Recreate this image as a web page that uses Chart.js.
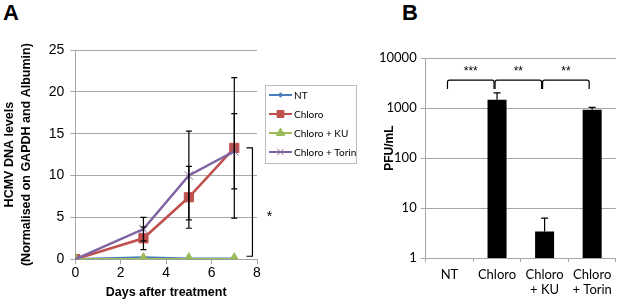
<!DOCTYPE html>
<html><head><meta charset="utf-8">
<script src="https://cdn.jsdelivr.net/npm/chart.js@4.4.0/dist/chart.umd.min.js"></script>
<style>
body{margin:0;background:#fff;width:617px;height:302px;overflow:hidden;position:relative;font-family:"Liberation Sans",Arial,sans-serif}
canvas{position:absolute;top:0}
#chartA{left:0}
#chartB{left:366px}
.panel{position:absolute;font-weight:bold;font-size:22px;line-height:22px}
</style></head><body>
<div class="panel" style="left:3px;top:2px">A</div>
<div class="panel" style="left:402px;top:2px">B</div>
<canvas id="chartA" width="370" height="302"></canvas>
<canvas id="chartB" width="251" height="302"></canvas>
<script>
// panel A - viral DNA over time
const days = [0, 3, 5, 7];
const xTicks = [0, 2, 4, 6, 8];
const seriesNames = ['NT', 'Chloro', 'Chloro + KU', 'Chloro + Torin'];
const ntValues = [0, 0.2, 0.05, 0.05];
const chloroValues = [0, 2.5, 7.4, 13.3];
const kuValues = [0, 0, 0, 0];
const torinValues = [0, 3.6, 10.0, 12.9];
const chloroErr = [0, 1.35, 3.7, 8.4];
const torinErr = [0, 1.4, 5.3, 4.5];

// panel B - plaque assay
const pfuLabels = ['NT', 'Chloro', ['Chloro', '+ KU'], ['Chloro', '+ Torin']];
const pfuValues = [null, 1470, 3.4, 920];
const pfuErr = [0, 530, 2.9, 110];
const logTicks = [1, 10, 100, 1000, 10000];
const sigPairs = [[0, 1, '***'], [1, 2, '**'], [2, 3, '**']];

const colors = ['#4a7ebb', '#c0504d', '#9bbb59', '#8064a2'];
const gridGray = '#a6a6a6';

function pts(vals) { return days.map((d, i) => ({x: d, y: vals[i]})); }

const errorBarsA = {
  id: 'errorBarsA',
  afterDatasetsDraw(chart) {
    const ctx = chart.ctx, xs = chart.scales.x, ys = chart.scales.y;
    ctx.save();
    ctx.strokeStyle = '#000';
    ctx.lineWidth = 1.2;
    chart.data.datasets.forEach(ds => {
      if (!ds.errors) return;
      ds.data.forEach((p, i) => {
        const e = ds.errors[i];
        if (!e) return;
        const x = xs.getPixelForValue(p.x);
        const y1 = ys.getPixelForValue(p.y - e), y2 = ys.getPixelForValue(p.y + e);
        ctx.beginPath();
        ctx.moveTo(x, y1); ctx.lineTo(x, y2);
        ctx.moveTo(x - 3, y1); ctx.lineTo(x + 3, y1);
        ctx.moveTo(x - 3, y2); ctx.lineTo(x + 3, y2);
        ctx.stroke();
      });
    });
    // significance bracket at day 7
    const bx = xs.getPixelForValue(7.8);
    const top = ys.getPixelForValue(chloroValues[3]);
    const bot = ys.getPixelForValue(0.35);
    ctx.beginPath();
    ctx.moveTo(bx - 6, top); ctx.lineTo(bx, top); ctx.lineTo(bx, bot); ctx.lineTo(bx - 6, bot);
    ctx.stroke();
    ctx.fillStyle = '#000';
    ctx.font = '14px "Liberation Sans"';
    ctx.textAlign = 'center';
    ctx.textBaseline = 'middle';
    ctx.fillText('*', bx + 17, ys.getPixelForValue(5.0));
    ctx.restore();
  }
};

const boxLegend = {
  id: 'boxLegend',
  afterDraw(chart) {
    const ctx = chart.ctx, a = chart.chartArea;
    const left = a.right + 8, top = a.top + 35, w = 91, h = 78;
    ctx.save();
    ctx.strokeStyle = '#bdbdbd';
    ctx.lineWidth = 1;
    ctx.strokeRect(left + 0.5, top + 0.5, w, h);
    ctx.font = '10px Lato';
    ctx.textBaseline = 'middle';
    chart.data.datasets.forEach((ds, i) => {
      const y = top + 10 + i * 19;
      ctx.strokeStyle = ds.borderColor;
      ctx.fillStyle = ds.borderColor;
      ctx.lineWidth = 2;
      ctx.beginPath(); ctx.moveTo(left + 4, y); ctx.lineTo(left + 27, y); ctx.stroke();
      ctx.lineWidth = 1;
      Chart.helpers.drawPoint(ctx, {pointStyle: ds.pointStyle, radius: ds.pointRadius * 0.75, borderWidth: 1}, left + 15.5, y);
      ctx.fillStyle = '#000';
      ctx.fillText(ds.label, left + 29, y + 1);
    });
    ctx.restore();
  }
};

function dsA(i, vals, style, radius, order, errors) {
  return {
    label: seriesNames[i], data: pts(vals), errors: errors,
    borderColor: colors[i], backgroundColor: colors[i], pointBorderColor: colors[i],
    pointBackgroundColor: colors[i],
    pointStyle: style, pointRadius: radius, pointBorderWidth: 1,
    borderWidth: 2.5, order: order
  };
}

new Chart(document.getElementById('chartA'), {
  type: 'line',
  data: {
    datasets: [
      dsA(0, ntValues, 'rectRot', 3, 3),
      dsA(1, chloroValues, 'rect', 6.5, 2, chloroErr),
      dsA(2, kuValues, 'triangle', 6.5, 1),
      dsA(3, torinValues, 'crossRot', 6, 0, torinErr)
    ]
  },
  options: {
    responsive: false,
    animation: false,
    layout: {padding: {left: 1, right: 113, top: 50, bottom: 2}},
    plugins: {legend: {display: false}, tooltip: {enabled: false}},
    scales: {
      x: {
        type: 'linear', min: 0, max: 8,
        afterBuildTicks: s => { s.ticks = xTicks.map(v => ({value: v})); },
        grid: {drawOnChartArea: false, color: gridGray, tickLength: 5},
        border: {color: gridGray},
        ticks: {color: '#000', font: {family: 'Liberation Sans', size: 14}, padding: 1},
        title: {display: true, text: 'Days after treatment', color: '#000',
                font: {family: 'Liberation Sans', size: 12.5, weight: 'bold'}, padding: {top: 2, bottom: 0}}
      },
      y: {
        min: 0, max: 25,
        ticks: {stepSize: 5, color: '#000', font: {family: 'Liberation Sans', size: 14}, padding: 6},
        grid: {color: gridGray, tickLength: 5},
        border: {color: gridGray},
        title: {display: true, text: ['HCMV DNA levels', '(Normalised on GAPDH and Albumin)'], color: '#000',
                font: {family: 'Liberation Sans', size: 12.5, weight: 'bold', lineHeight: 1.35}, padding: {top: 0, bottom: 8}}
      }
    }
  },
  plugins: [errorBarsA, boxLegend]
});

const errorBarsB = {
  id: 'errorBarsB',
  afterDatasetsDraw(chart) {
    const ctx = chart.ctx, xs = chart.scales.x, ys = chart.scales.y, a = chart.chartArea;
    ctx.save();
    ctx.strokeStyle = '#000';
    ctx.lineWidth = 1.2;
    pfuValues.forEach((v, i) => {
      if (v == null || !pfuErr[i]) return;
      const x = xs.getPixelForValue(i);
      const y1 = ys.getPixelForValue(v), y2 = ys.getPixelForValue(v + pfuErr[i]);
      ctx.beginPath();
      ctx.moveTo(x, y1); ctx.lineTo(x, y2);
      ctx.moveTo(x - 3.5, y2); ctx.lineTo(x + 3.5, y2);
      ctx.stroke();
    });
    // brackets with stars
    const yTop = ys.getPixelForValue(3600), yEnd = ys.getPixelForValue(2400), yStar = ys.getPixelForValue(5400);
    ctx.fillStyle = '#000';
    ctx.font = '12px "Liberation Sans"';
    ctx.textAlign = 'center';
    ctx.textBaseline = 'middle';
    sigPairs.forEach(([i, j, s]) => {
      const x1 = xs.getPixelForValue(i) - 2, x2 = xs.getPixelForValue(j) - 3;
      ctx.beginPath();
      ctx.moveTo(x1, yEnd); ctx.lineTo(x1, yTop + 2);
      ctx.quadraticCurveTo(x1, yTop, x1 + 2, yTop);
      ctx.lineTo(x2 - 2, yTop);
      ctx.quadraticCurveTo(x2, yTop, x2, yTop + 2);
      ctx.lineTo(x2, yEnd);
      ctx.stroke();
      ctx.fillText(s, (x1 + x2) / 2, yStar);
    });
    // y axis title
    ctx.save();
    ctx.translate(a.left - 36, (a.top + a.bottom) / 2 - 10);
    ctx.rotate(-Math.PI / 2);
    ctx.font = 'bold 12px "Liberation Sans"';
    ctx.fillText('PFU/mL', 0, 0);
    ctx.restore();
    ctx.restore();
  }
};

new Chart(document.getElementById('chartB'), {
  type: 'bar',
  data: {
    labels: pfuLabels,
    datasets: [{data: pfuValues, backgroundColor: '#000', borderWidth: 0, categoryPercentage: 1, barPercentage: 0.4}]
  },
  options: {
    responsive: false,
    animation: false,
    layout: {padding: {left: 9, right: 1, top: 58, bottom: 0}},
    plugins: {legend: {display: false}, tooltip: {enabled: false}},
    scales: {
      x: {
        grid: {offset: true, drawOnChartArea: false, color: gridGray, tickLength: 4},
        border: {color: gridGray},
        ticks: {color: '#000', font: {family: 'Lato', size: 13, lineHeight: 1.15}, padding: 5,
                maxRotation: 0, minRotation: 0, autoSkip: false}
      },
      y: {
        type: 'logarithmic', min: 1, max: 10000,
        afterBuildTicks: s => { s.ticks = logTicks.map(v => ({value: v})); },
        ticks: {color: '#000', font: {family: 'Lato', size: 13}, padding: 4, callback: v => String(v)},
        grid: {color: gridGray, tickLength: 5},
        border: {color: gridGray}
      }
    }
  },
  plugins: [errorBarsB]
});
</script>
</body></html>
